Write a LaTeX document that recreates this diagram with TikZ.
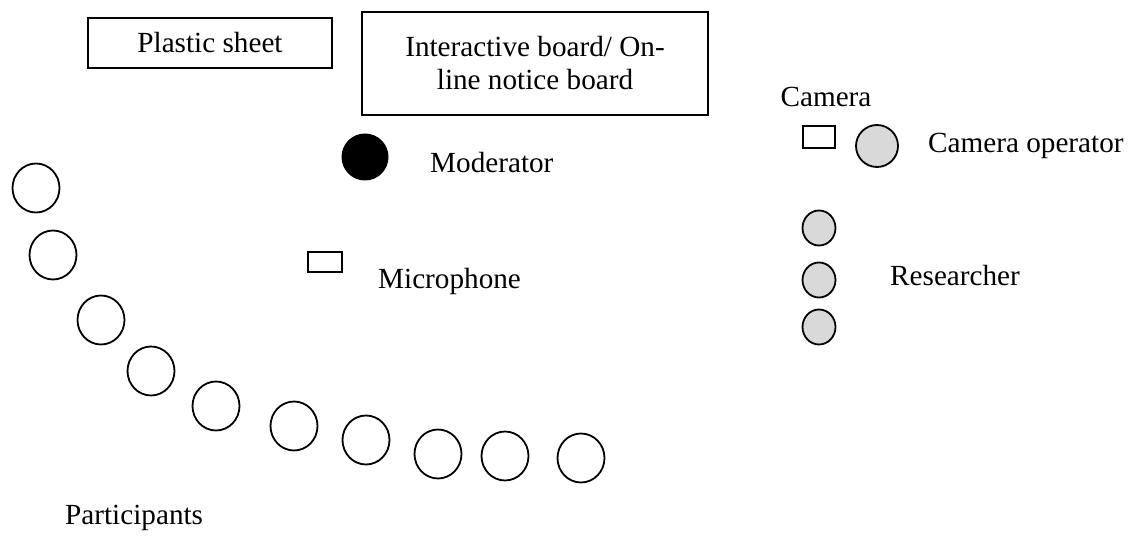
\documentclass[tikz,border=0pt]{standalone}
\usepackage{fontspec}
\setmainfont{Liberation Serif}
\usetikzlibrary{shapes.geometric}
\begin{document}
\begin{tikzpicture}[x=1pt,y=-1pt,
  txt/.style={font=\fontsize{29.2}{33}\selectfont, inner sep=0pt},
  lbl/.style={txt, anchor=west},
  board/.style={draw, line width=1.6pt, inner sep=0pt, txt, align=center},
  device/.style={draw, line width=1.5pt, inner sep=0pt, minimum width=32pt, minimum height=22pt},
  participant/.style={ellipse, draw, line width=1.8pt, fill=white, minimum width=47pt, minimum height=49pt, inner sep=0pt},
  researcher/.style={ellipse, draw, line width=1.8pt, fill=gray!30, minimum width=33pt, minimum height=35pt, inner sep=0pt},
  moderatorstyle/.style={circle, fill=black, minimum size=47pt, inner sep=0pt}]
\useasboundingbox (0,0) rectangle (1136,537);
% boards
\node[board, minimum width=244pt, minimum height=50pt] (sheet) at (210,43) {Plastic sheet};
\node[board, minimum width=346pt, minimum height=103pt] (iboard) at (535,63.5) {Interactive board/ On-\\line notice board};
% moderator
\node[moderatorstyle] (mod) at (365,157) {};
\node[lbl] (modl) at (430,163) {Moderator};
% microphone
\node[device, minimum width=34pt, minimum height=20pt] (mic) at (325,262) {};
\node[lbl] (micl) at (378,281) {Microphone};
% camera
\node[txt] (caml) at (826,97) {Camera};
\node[device] (cam) at (819,137) {};
\node[researcher, minimum width=42pt, minimum height=42pt] (camop) at (877,146) {};
\node[lbl] (camopl) at (928,146) {Camera operator};
% researchers
\node[researcher] (r1) at (819,228) {};
\node[researcher] (r2) at (819,280) {};
\node[researcher] (r3) at (819,327) {};
\node[lbl] (rl) at (890,276) {Researcher};
% participants
\node[participant] (p1) at (36,188) {};
\node[participant] (p2) at (53,255) {};
\node[participant] (p3) at (101,320) {};
\node[participant] (p4) at (151,371) {};
\node[participant] (p5) at (216,406) {};
\node[participant] (p6) at (294,426) {};
\node[participant] (p7) at (366,440) {};
\node[participant] (p8) at (438,454) {};
\node[participant] (p9) at (505,456) {};
\node[participant] (p10) at (581,458) {};
\node[lbl] (pl) at (65,518) {Participants};
\end{tikzpicture}
\end{document}
